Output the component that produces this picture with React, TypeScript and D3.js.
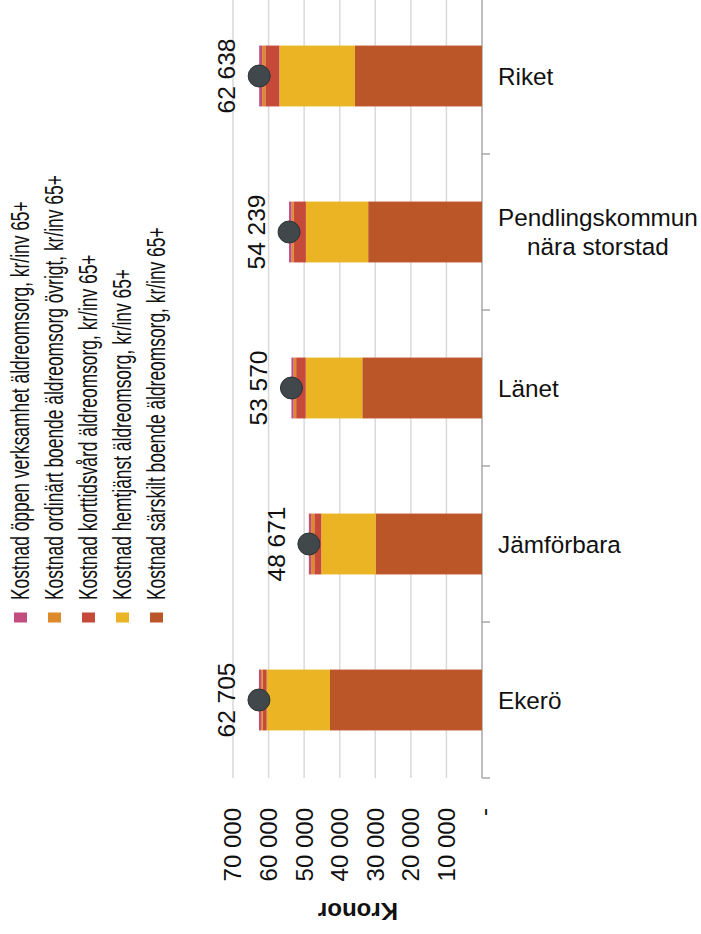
import React, { useEffect, useRef } from "react";
import * as d3 from "d3";

const categories = ["Riket", "Pendlingskommun\nnära storstad", "Länet", "Jämförbara", "Ekerö"];
const sarskiltBoende = [35700, 32000, 33650, 29900, 42730];
const hemtjanst = [21280, 17500, 15900, 15280, 17800];
const korttidsvard = [3940, 3400, 2700, 1970, 1100];
const ordinartOvrigt = [900, 650, 700, 900, 500];
const oppenVerksamhet = [818, 689, 620, 621, 575];
const totals = [62638, 54239, 53570, 48671, 62705];
const xTicks = [0, 10000, 20000, 30000, 40000, 50000, 60000, 70000];

const seriesKeys = ["sarskilt", "hemtjanst", "korttid", "ordinart", "oppen"];
const seriesLabels: Record<string, string> = {
  oppen: "Kostnad öppen verksamhet äldreomsorg, kr/inv 65+",
  ordinart: "Kostnad ordinärt boende äldreomsorg övrigt, kr/inv 65+",
  korttid: "Kostnad korttidsvård äldreomsorg, kr/inv 65+",
  hemtjanst: "Kostnad hemtjänst äldreomsorg, kr/inv 65+",
  sarskilt: "Kostnad särskilt boende äldreomsorg, kr/inv 65+",
};
const seriesColors: Record<string, string> = {
  sarskilt: "#bb5628",
  hemtjanst: "#eab424",
  korttid: "#c64a3a",
  ordinart: "#dd8a2c",
  oppen: "#c24e80",
};
const legendOrder = ["oppen", "ordinart", "korttid", "hemtjanst", "sarskilt"];

const FONT = "'Liberation Sans', Arial, sans-serif";

export default function App() {
  const ref = useRef<SVGSVGElement | null>(null);

  useEffect(() => {
    const svg = d3.select(ref.current);
    svg.selectAll("*").remove();

    const rows = categories.map((c, i) => ({
      cat: c,
      sarskilt: sarskiltBoende[i],
      hemtjanst: hemtjanst[i],
      korttid: korttidsvard[i],
      ordinart: ordinartOvrigt[i],
      oppen: oppenVerksamhet[i],
      total: totals[i],
    }));

    const x = d3.scaleLinear().domain([0, 70000]).range([482, 233]);
    const pad = 0.61;
    const y = d3
      .scaleBand<string>()
      .domain(categories)
      .range([-2, 778])
      .paddingInner(pad)
      .paddingOuter(pad / 2);
    const step = y.step();

    const loc = d3.formatLocale({ decimal: ",", thousands: " ", grouping: [3], currency: ["", ""] });
    const fmt = loc.format(",d");

    // gridlines
    svg
      .append("g")
      .selectAll("line")
      .data(xTicks.filter((t) => t > 0))
      .join("line")
      .attr("x1", (d) => x(d))
      .attr("x2", (d) => x(d))
      .attr("y1", 0)
      .attr("y2", 778)
      .attr("stroke", "#d9d9d9")
      .attr("stroke-width", 1.5);

    // axis line (value 0)
    svg
      .append("line")
      .attr("x1", x(0))
      .attr("x2", x(0))
      .attr("y1", 0)
      .attr("y2", 778)
      .attr("stroke", "#a8a8a8")
      .attr("stroke-width", 1.5);

    // category boundary ticks
    const bounds = d3.range(categories.length + 1).map((k) => -2 + k * step);
    svg
      .append("g")
      .selectAll("line")
      .data(bounds)
      .join("line")
      .attr("x1", x(0))
      .attr("x2", x(0) + 8)
      .attr("y1", (d) => d)
      .attr("y2", (d) => d)
      .attr("stroke", "#a8a8a8")
      .attr("stroke-width", 1.5);

    // stacked bars
    const stack = d3.stack<any>().keys(seriesKeys);
    const stacked = stack(rows);
    svg
      .append("g")
      .selectAll("g")
      .data(stacked)
      .join("g")
      .attr("fill", (s) => seriesColors[s.key])
      .selectAll("rect")
      .data((s) => s)
      .join("rect")
      .attr("x", (d) => x(d[1]))
      .attr("width", (d) => x(d[0]) - x(d[1]))
      .attr("y", (d) => y(d.data.cat)!)
      .attr("height", y.bandwidth());

    // dots
    svg
      .append("g")
      .selectAll("circle")
      .data(rows)
      .join("circle")
      .attr("cx", (d) => x(d.total))
      .attr("cy", (d) => y(d.cat)! + y.bandwidth() / 2)
      .attr("r", 11)
      .attr("fill", "#40484c")
      .attr("stroke", "#2c3235")
      .attr("stroke-width", 1);

    // value labels
    svg
      .append("g")
      .selectAll("text")
      .data(rows)
      .join("text")
      .attr("transform", (d) => `translate(${x(d.total) - 24},${y(d.cat)! + y.bandwidth() / 2}) rotate(-90)`)
      .attr("text-anchor", "middle")
      .attr("font-family", FONT)
      .attr("font-size", 24.5)
      .attr("fill", "#111")
      .text((d) => fmt(d.total));

    // category labels
    const catG = svg.append("g");
    rows.forEach((r) => {
      const lines = r.cat.split("\n");
      const cy = y(r.cat)! + y.bandwidth() / 2;
      const lh = 29;
      const t = catG
        .append("text")
        .attr("font-family", FONT)
        .attr("font-size", 24.3)
        .attr("fill", "#111");
      lines.forEach((ln, li) => {
        t.append("tspan")
          .attr("y", cy + 8.5 - ((lines.length - 1) * lh) / 2 + li * lh)
          .text(ln);
      });
      const widths = t.selectAll<SVGTSpanElement, unknown>("tspan").nodes().map((n) => n.getComputedTextLength());
      const w = Math.max(...widths);
      t.attr("text-anchor", "middle");
      t.selectAll("tspan").attr("x", 498 + w / 2);
    });

    // x tick labels
    svg
      .append("g")
      .selectAll("text")
      .data(xTicks)
      .join("text")
      .attr("transform", (d) => `translate(${x(d) + (d === 0 ? 2 : 0)},808) rotate(-90)`)
      .attr("text-anchor", "end")
      .attr("dy", "0.35em")
      .attr("font-family", FONT)
      .attr("font-size", 24)
      .attr("fill", "#111")
      .text((d) => (d === 0 ? "-" : fmt(d)));

    // axis title
    svg
      .append("text")
      .attr("transform", `translate(358,911) rotate(180)`)
      .attr("text-anchor", "middle")
      .attr("dy", "0.35em")
      .attr("font-family", FONT)
      .attr("font-size", 24)
      .attr("font-weight", "bold")
      .attr("fill", "#111")
      .text("Kronor");

    // legend
    const lg = svg.append("g");
    legendOrder.forEach((k, i) => {
      const cx = 20.5 + i * 34;
      lg.append("rect")
        .attr("x", cx - 6.5)
        .attr("y", 612.5)
        .attr("width", 13)
        .attr("height", 10)
        .attr("fill", seriesColors[k]);
      lg.append("text")
        .attr("transform", `translate(${cx + 8},600) rotate(-90) scale(1,1.45)`)
        .attr("text-anchor", "start")
        .attr("font-family", FONT)
        .attr("font-size", 17.4)
        .attr("fill", "#111")
        .text(seriesLabels[k]);
    });
  }, []);

  return (
    <svg
      ref={ref}
      width={701}
      height={934}
      style={{ position: "absolute", left: 0, top: 0, background: "#fff" }}
    />
  );
}
